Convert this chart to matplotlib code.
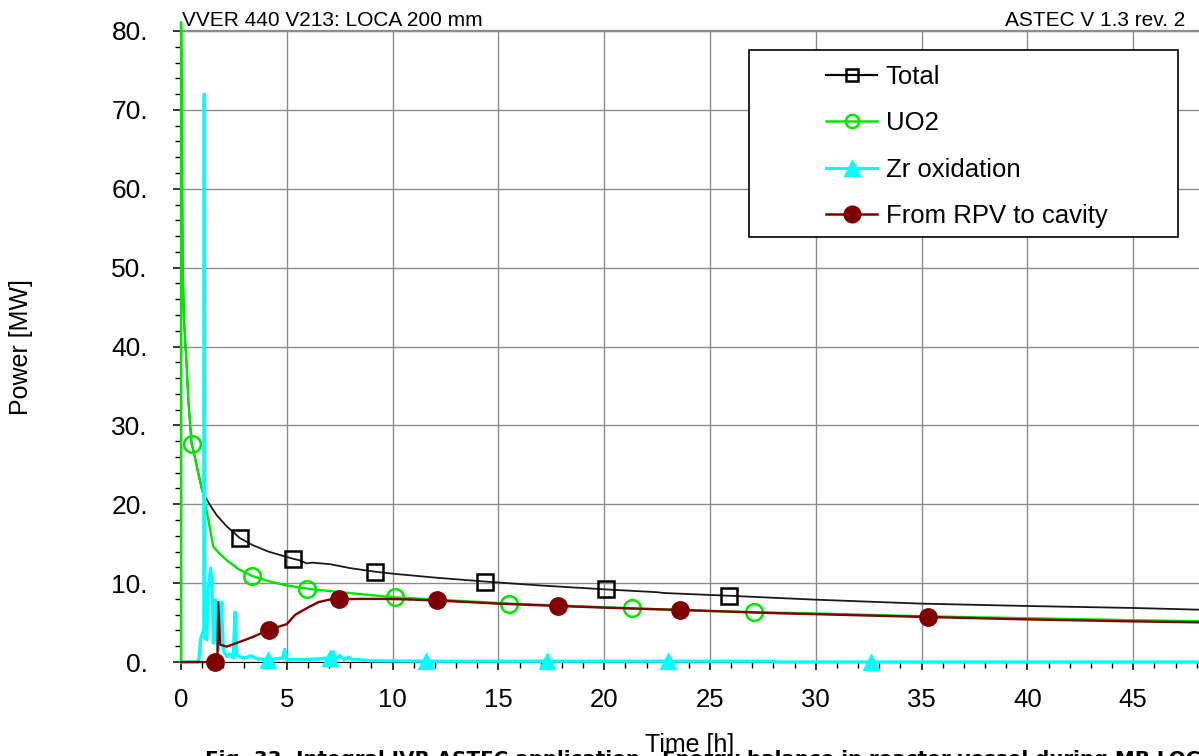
import matplotlib
matplotlib.use("Agg")
import matplotlib.pyplot as plt
from matplotlib.lines import Line2D
from matplotlib.patches import Rectangle
import numpy as np

plt.rcParams['font.family'] = ['Liberation Sans', 'DejaVu Sans']

# ---- data: time [h] and power [MW] ----
total_t = [0, 0.003, 0.08, 0.14, 0.27, 0.35, 0.5, 0.58, 0.82, 0.98, 1.05, 1.13,
           1.37, 1.69, 2.16, 2.79, 3.4, 4.13, 5.28, 5.6, 5.94, 6.2, 7.04, 8.0,
           9.17, 10.0, 12.0, 14.37, 17.0, 20.1, 22.5, 22.8, 25.9, 30, 35, 40, 45, 50]
total_p = [0, 81.1, 50.0, 43.4, 37.4, 33.0, 27.7, 26.9, 23.9, 22.0, 21.4, 21.0,
           19.9, 18.6, 17.2, 15.7, 14.8, 14.0, 13.1, 12.9, 12.5, 12.6, 12.4, 11.9,
           11.45, 11.2, 10.7, 10.2, 9.7, 9.2, 8.85, 8.75, 8.4, 7.9, 7.4, 7.1, 6.85, 6.5]
total_marks = [2.79, 5.28, 9.17, 14.37, 20.1, 25.9]

uo2_t = [0, 0.003, 0.08, 0.14, 0.27, 0.35, 0.5, 0.58, 0.82, 0.98, 1.05, 1.15,
         1.35, 1.53, 1.8, 2.16, 2.7, 3.36, 4.2, 5.0, 5.97, 7.0, 8.5, 10.1, 12.5,
         15.5, 18.5, 21.3, 24.0, 27.1, 30, 35, 40, 45, 50]
uo2_p = [0, 81.1, 50.0, 43.4, 37.4, 33.0, 27.7, 26.9, 23.9, 22.0, 21.4, 20.0,
         17.2, 14.6, 13.8, 12.9, 11.8, 10.9, 10.2, 9.7, 9.3, 9.0, 8.6, 8.2, 7.85,
         7.4, 7.1, 6.8, 6.55, 6.3, 6.15, 5.8, 5.55, 5.3, 5.1]
uo2_marks = [0.5, 3.36, 5.97, 10.1, 15.5, 21.3, 27.1]

zr_t = [0, 0.8, 0.85, 0.93, 1.0, 1.05, 1.08, 1.1, 1.12, 1.16, 1.21, 1.29, 1.40,
        1.47, 1.53, 1.62, 1.69, 1.77, 1.91, 2.0, 2.16, 2.3, 2.47, 2.55, 2.63,
        2.8, 3.0, 3.3, 3.6, 4.1, 4.5, 4.8, 4.9, 5.0, 5.5, 6.0, 6.5, 6.9, 7.05,
        7.2, 7.3, 7.5, 7.7, 7.9, 8.1, 8.4, 9.0, 11.6, 17.3, 23.0, 28.0, 28.1,
        32.6, 40, 50]
zr_p = [0, 0, 0.5, 3.0, 3.5, 4.0, 4.0, 72.0, 3.0, 3.0, 2.8, 9.5, 11.9,
        9.1, 2.4, 7.9, 2.8, 1.5, 7.6, 1.5, 0.7, 1.0, 0.5, 6.3, 0.9,
        0.6, 0.5, 0.8, 0.4, 0.3, 0.4, 0.5, 1.6, 0.3, 0.3, 0.3, 0.4, 0.5, 0.5,
        1.3, 0.4, 0.8, 0.3, 0.6, 0.3, 0.3, 0.15, 0.1, 0.1, 0.1, 0.1, 0.0,
        0.0, 0.0, 0.0]
zr_marks = [4.1, 7.05, 11.6, 17.3, 23.0, 32.6]

rpv_t = [0, 1.6, 1.72, 1.76, 1.85, 2.16, 2.63, 3.42, 4.16, 5.0, 5.4, 6.0, 6.5,
         7.0, 7.48, 8.5, 9.5, 10.5, 12.08, 15.0, 17.83, 20.5, 23.6, 28.0, 35.3,
         40, 45, 50]
rpv_p = [0, 0, 0, 7.6, 2.2, 1.95, 2.4, 3.2, 4.1, 4.8, 6.0, 6.9, 7.6,
         7.9, 7.95, 8.0, 8.0, 7.95, 7.8, 7.4, 7.1, 6.85, 6.6, 6.2, 5.7,
         5.4, 5.15, 4.95]
rpv_marks = [1.6, 4.16, 7.48, 12.08, 17.83, 23.6, 35.3]

x_ticks = list(range(0, 51, 5))
y_ticks = list(range(0, 81, 10))
labels = ["Total", "UO2", "Zr oxidation", "From RPV to cavity"]


def mark_idx(t, marks):
    return [t.index(m) for m in marks]


W, H = 1199, 756
fig = plt.figure(figsize=(W / 100, H / 100), dpi=100)
ax = fig.add_axes([181 / W, (H - 662) / H, 1058 / W, 631 / H])

GREEN = "#00e600"
CYAN = "#00ffff"
DRED = "#800000"

ax.plot(total_t, total_p, color="#1a1a1a", lw=1.3, marker="s", ms=12,
        mfc="none", mec="black", mew=1.8,
        markevery=mark_idx(total_t, total_marks), zorder=3, clip_on=False)
ax.plot(uo2_t, uo2_p, color=GREEN, lw=1.7, marker="o", ms=12,
        mfc="none", mec=GREEN, mew=1.8,
        markevery=mark_idx(uo2_t, uo2_marks), zorder=4, clip_on=False)
ax.plot(zr_t, zr_p, color=CYAN, lw=2.4, marker="^", ms=12,
        mfc=CYAN, mec=CYAN,
        markevery=mark_idx(zr_t, zr_marks), zorder=5, clip_on=False)
ax.plot(rpv_t, rpv_p, color=DRED, lw=1.7, marker="o", ms=12.5,
        mfc=DRED, mec=DRED,
        markevery=mark_idx(rpv_t, rpv_marks), zorder=6, clip_on=False)

ax.set_xlim(0, 50)
ax.set_ylim(0, 80)
ax.set_xticks(x_ticks)
ax.set_xticklabels([str(v) for v in x_ticks])
ax.set_yticks(y_ticks)
ax.set_yticklabels([f"{v}." for v in y_ticks])
ax.set_xticks(np.arange(0, 51, 1), minor=True)
ax.set_yticks(np.arange(0, 81, 2), minor=True)

ax.tick_params(axis="both", which="major", direction="out", length=5.8,
               width=1.1, colors="black")
ax.tick_params(axis="both", which="minor", direction="out", length=4.0,
               width=1.0, colors="black")
ax.tick_params(axis="y", which="major", pad=18, labelsize=19)
ax.tick_params(axis="x", which="major", pad=13, labelsize=18.5)

ax.grid(True, which="major", color="#8c8c8c", lw=1.0, zorder=1)
ax.set_axisbelow(True)
ax.spines["top"].set_color("#8c8c8c")
ax.spines["top"].set_linewidth(1.6)
ax.spines["right"].set_visible(False)
ax.spines["left"].set_color("black")
ax.spines["bottom"].set_color("black")

# header texts
fig.text(182 / W, (H - 26) / H, "VVER 440 V213: LOCA 200 mm", fontsize=15,
         ha="left", va="baseline")
fig.text(1185 / W, (H - 26) / H, "ASTEC V 1.3 rev. 2", fontsize=15,
         ha="right", va="baseline")

# axis labels
fig.text(690 / W, (H - 752) / H, "Time [h]", fontsize=18, ha="center",
         va="baseline")
fig.text(21 / W, (H - 347) / H, "Power [MW]", fontsize=18, rotation=90,
         ha="center", va="center")

# caption below the chart
fig.text(205 / W, (H - 765) / H,
         "Fig. 33. Integral IVR ASTEC application - Energy balance in reactor "
         "vessel during MB LOCA",
         fontsize=14.3, fontweight="bold", family="DejaVu Sans",
         ha="left", va="baseline")

# legend box
box = Rectangle((749 / W, (H - 237) / H), (1178 - 749) / W, (237 - 50) / H,
                transform=fig.transFigure, facecolor="white", edgecolor="black",
                lw=1.2, zorder=10)
ax.add_artist(box)

handles = [
    Line2D([], [], color="black", lw=1.6, marker="s", ms=9, mfc="none",
           mec="black", mew=1.8),
    Line2D([], [], color=GREEN, lw=1.8, marker="o", ms=9.5, mfc="none",
           mec=GREEN, mew=1.8),
    Line2D([], [], color=CYAN, lw=2.2, marker="^", ms=12, mfc=CYAN, mec=CYAN),
    Line2D([], [], color=DRED, lw=1.8, marker="o", ms=12, mfc=DRED, mec=DRED),
]
leg = ax.legend(handles, labels, loc="upper left",
                bbox_to_anchor=(826 / W, (H - 65) / H),
                bbox_transform=fig.transFigure, frameon=False, fontsize=18.5,
                borderpad=0, borderaxespad=0, handlelength=2.0,
                handletextpad=0.32, labelspacing=0.87)
leg.set_zorder(11)

fig.savefig("out.png", dpi=100)
